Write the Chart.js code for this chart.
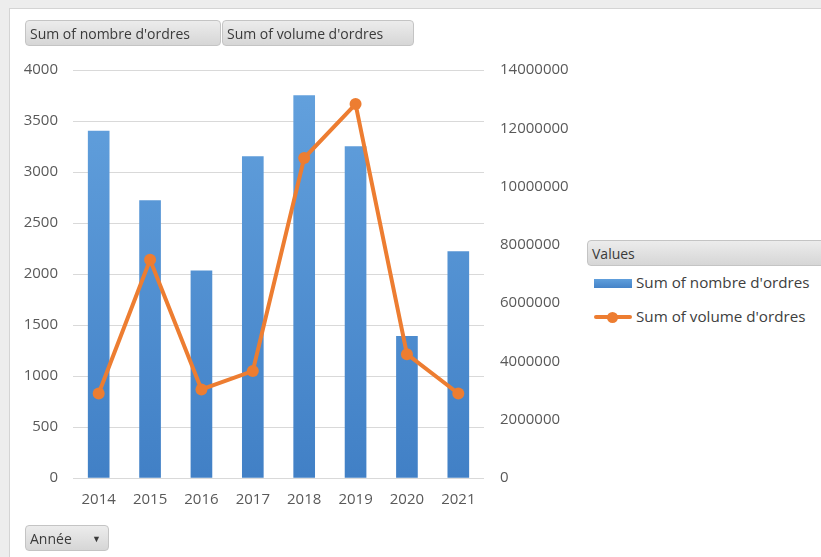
<!DOCTYPE html>
<html>
<head>
<meta charset="utf-8">
<script src="https://cdn.jsdelivr.net/npm/chart.js@4.4.1/dist/chart.umd.min.js"></script>
<style>
  html, body { margin: 0; padding: 0; width: 821px; height: 557px; overflow: hidden; background: #ededed; font-family: "Open Sans", sans-serif; }
  #panel { position: absolute; left: 9px; top: 8px; width: 830px; height: 560px; background: #fff; border-left: 1px solid #d4d4d4; border-top: 1px solid #d4d4d4; }
  .btn { position: absolute; height: 26px; line-height: 26px; box-sizing: border-box; border: 1px solid #c4c4c4; border-radius: 4px;
         background: linear-gradient(#ececec, #d6d6d6); color: #3a3a3a; font-size: 14px; padding-left: 4px; white-space: nowrap; }
  #chartBox { position: absolute; left: 9px; top: 45px; width: 570px; height: 485px; }
  .leg { position: absolute; font-size: 15.2px; color: #404040; white-space: nowrap; }
  .swatch { position: absolute; }
</style>
</head>
<body>
<div id="panel"></div>
<div id="chartBox"><canvas id="myChart"></canvas></div>
<div class="btn" style="left:25px; top:20px; width:196px;">Sum of nombre d'ordres</div>
<div class="btn" style="left:222px; top:20px; width:192px;">Sum of volume d'ordres</div>
<div class="btn" style="left:25px; top:525px; width:84px;">Année<span style="position:absolute; left:66px; top:0; font-size:9px;">▼</span></div>
<div class="btn" style="left:587px; top:240px; width:240px;">Values</div>
<div class="swatch" style="left:594px; top:279px; width:38px; height:9px; background:linear-gradient(#5f9fdc,#4583c8);"></div>
<div class="leg" style="left:636px; top:272px;" id="leg1"></div>
<div class="swatch" style="left:594px; top:315px; width:38px; height:4px; background:#ed7d31; border-radius:2px;"></div>
<div class="swatch" style="left:607px; top:312px; width:11px; height:11px; background:#ed7d31; border-radius:50%;"></div>
<div class="leg" style="left:636px; top:306px;" id="leg2"></div>
<script>
const annees = ['2014', '2015', '2016', '2017', '2018', '2019', '2020', '2021'];
const nombreOrdres = [3400, 2720, 2030, 3150, 3750, 3250, 1390, 2220];
const volumeOrdres = [2900000, 7490000, 3040000, 3670000, 10980000, 12830000, 4250000, 2900000];
const labelNombre = "Sum of nombre d'ordres";
const labelVolume = "Sum of volume d'ordres";

document.getElementById('leg1').innerText = labelNombre;
document.getElementById('leg2').innerText = labelVolume;

const tickFont = { family: 'Open Sans', size: 15 };
const tickColor = '#595959';

function barGradient(context) {
    const area = context.chart.chartArea;
    if (!area) return '#5b9bd5';
    const g = context.chart.ctx.createLinearGradient(0, area.top, 0, area.bottom);
    g.addColorStop(0, '#64a2de');
    g.addColorStop(1, '#4180c6');
    return g;
}

function plainNumber(value) {
    return String(value);
}

const myChart = new Chart(document.getElementById('myChart').getContext('2d'), {
    type: 'bar',
    data: {
        labels: annees,
        datasets: [
            {
                type: 'line',
                label: labelVolume,
                data: volumeOrdres,
                yAxisID: 'y1',
                borderColor: '#ed7d31',
                backgroundColor: '#ed7d31',
                borderWidth: 4,
                pointRadius: 6,
                pointBorderWidth: 0,
                tension: 0,
                order: 0
            },
            {
                label: labelNombre,
                data: nombreOrdres,
                yAxisID: 'y',
                backgroundColor: barGradient,
                barThickness: 21,
                order: 1
            }
        ]
    },
    options: {
        responsive: true,
        maintainAspectRatio: false,
        animation: false,
        layout: { padding: { top: 4, bottom: 16, left: 0, right: 0 } },
        plugins: { legend: { display: false }, tooltip: { enabled: false } },
        scales: {
            x: {
                grid: { display: false },
                border: { display: false },
                ticks: { font: tickFont, color: tickColor, padding: 5 }
            },
            y: {
                position: 'left',
                min: 0,
                max: 4000,
                border: { display: false },
                grid: { color: '#d9d9d9', drawTicks: false },
                ticks: { stepSize: 500, font: tickFont, color: tickColor, padding: 15, callback: plainNumber },
                afterFit: (scale) => { scale.width = 64; }
            },
            y1: {
                position: 'right',
                min: 0,
                max: 14000000,
                border: { display: false },
                grid: { display: false, drawTicks: false },
                ticks: { stepSize: 2000000, font: tickFont, color: tickColor, padding: 16, callback: plainNumber },
                afterFit: (scale) => { scale.width = 95; }
            }
        }
    }
});
</script>
</body>
</html>
